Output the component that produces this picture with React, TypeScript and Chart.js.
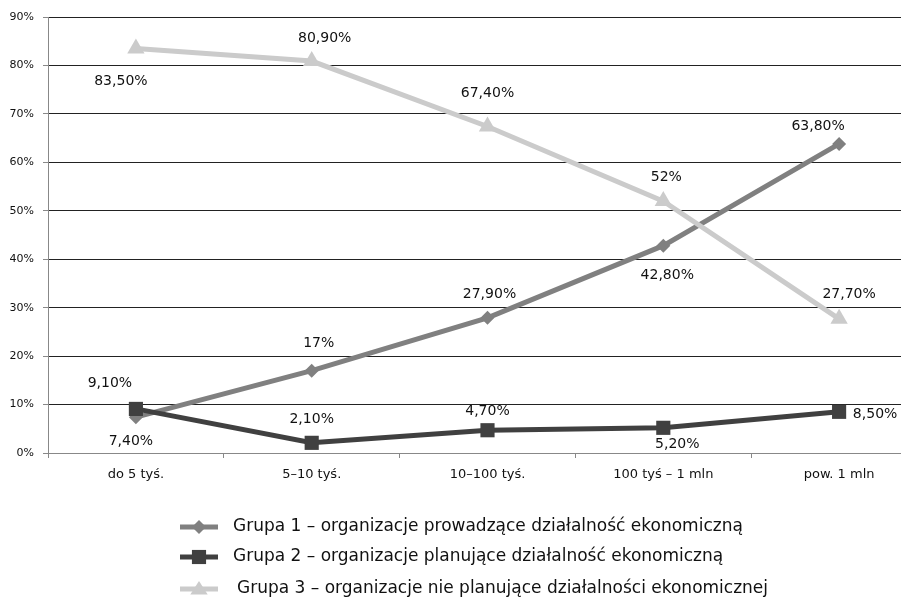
import React, { useEffect, useRef } from "react";
import { Chart, registerables } from "chart.js";

Chart.register(...registerables);

const categories = ["do 5 tyś.", "5–10 tyś.", "10–100 tyś.", "100 tyś – 1 mln", "pow. 1 mln"];
const seriesNames = [
  "Grupa 1 – organizacje prowadzące działalność ekonomiczną",
  "Grupa 2 – organizacje planujące działalność ekonomiczną",
  "Grupa 3 – organizacje nie planujące działalności ekonomicznej",
];
const group1 = [7.4, 17, 27.9, 42.8, 63.8];
const group2 = [9.1, 2.1, 4.7, 5.2, 8.5];
const group3 = [83.5, 80.9, 67.4, 52, 27.7];
const group1Labels = ["7,40%", "17%", "27,90%", "42,80%", "63,80%"];
const group2Labels = ["9,10%", "2,10%", "4,70%", "5,20%", "8,50%"];
const group3Labels = ["83,50%", "80,90%", "67,40%", "52%", "27,70%"];
const yTicks = [0, 10, 20, 30, 40, 50, 60, 70, 80, 90];

// label offsets (style): [dx, dy] relative to point
const labelOffsets = [
  [[-5, 24], [7, -27], [2, -23], [4, 30], [-21, -18]],
  [[-26, -26], [0, -23], [0, -19], [14, 17], [36, 3]],
  [[-15, 33], [13, -23], [0, -33], [3, -24], [10, -24]],
];

const FONT = "'DejaVu Sans', sans-serif";
const colors = ["#808080", "#404040", "#cbcbcb"];
const pointStyles = ["rectRot", "rect", "triangle"];
const pointRadii = [7, 10, 10];

function drawMarker(ctx: CanvasRenderingContext2D, style: string, x: number, y: number, r: number) {
  ctx.beginPath();
  if (style === "rectRot") {
    ctx.moveTo(x - r, y);
    ctx.lineTo(x, y - r);
    ctx.lineTo(x + r, y);
    ctx.lineTo(x, y + r);
  } else if (style === "rect") {
    const s = r * Math.SQRT1_2;
    ctx.rect(x - s, y - s, 2 * s, 2 * s);
  } else {
    ctx.moveTo(x, y - r * 0.8);
    ctx.lineTo(x + r * 0.87, y + r * 0.55);
    ctx.lineTo(x - r * 0.87, y + r * 0.55);
  }
  ctx.closePath();
  ctx.fill();
}

const labelPlugin = {
  id: "pointLabels",
  afterDatasetsDraw(chart: any) {
    const ctx = chart.ctx;
    const allLabels = [group1Labels, group2Labels, group3Labels];
    ctx.save();
    ctx.font = `14px ${FONT}`;
    ctx.fillStyle = "#111";
    ctx.textAlign = "center";
    ctx.textBaseline = "middle";
    chart.data.datasets.forEach((ds: any, i: number) => {
      const meta = chart.getDatasetMeta(i);
      meta.data.forEach((pt: any, j: number) => {
        const [dx, dy] = labelOffsets[i][j];
        ctx.fillText(allLabels[i][j], pt.x + dx, pt.y + dy);
      });
    });
    ctx.restore();
  },
};

const legendPlugin = {
  id: "customLegend",
  afterDraw(chart: any) {
    const ctx = chart.ctx;
    const rows = [527, 557, 589];
    const textX = [233, 233, 237];
    ctx.save();
    chart.data.datasets.forEach((ds: any, i: number) => {
      const y = rows[i];
      ctx.strokeStyle = colors[i];
      ctx.lineWidth = 5;
      ctx.beginPath();
      ctx.moveTo(180, y);
      ctx.lineTo(218, y);
      ctx.stroke();
      ctx.fillStyle = colors[i];
      drawMarker(ctx, pointStyles[i], 199, y, pointRadii[i]);
      ctx.fillStyle = "#111";
      ctx.font = `17px ${FONT}`;
      ctx.textAlign = "left";
      ctx.textBaseline = "middle";
      ctx.fillText(ds.label, textX[i], y);
    });
    ctx.restore();
  },
};

export default function App() {
  const ref = useRef<HTMLCanvasElement>(null);
  useEffect(() => {
    document.body.style.overflow = "hidden";
    const data = [group1, group2, group3];
    const chart = new Chart(ref.current!, {
      type: "line",
      data: {
        labels: categories,
        datasets: data.map((d, i) => ({
          label: seriesNames[i],
          data: d,
          borderColor: colors[i],
          backgroundColor: colors[i],
          borderWidth: 5,
          pointStyle: pointStyles[i] as any,
          pointRadius: pointRadii[i],
          pointBackgroundColor: colors[i],
          pointBorderWidth: 0,
          tension: 0,
          order: 2 - i,
        })),
      },
      options: {
        animation: false,
        responsive: false,
        maintainAspectRatio: false,
        layout: { padding: { top: 17, right: 3, left: 0, bottom: 0 } },
        plugins: { legend: { display: false }, tooltip: { enabled: false } },
        scales: {
          x: {
            offset: true,
            grid: { drawOnChartArea: false, drawTicks: true, tickLength: 5, color: "#888", offset: true },
            border: { color: "#888", width: 1 },
            ticks: { color: "#111", font: { family: FONT, size: 13 }, padding: 9, maxRotation: 0 },
            afterFit(scale: any) {
              scale.height = 148;
            },
          },
          y: {
            min: 0,
            max: 90,
            afterBuildTicks(scale: any) {
              scale.ticks = yTicks.map((v) => ({ value: v }));
            },
            grid: { color: "#222", tickColor: "#888", tickLength: 5 },
            border: { color: "#888", width: 1 },
            ticks: {
              color: "#111",
              font: { family: FONT, size: 11 },
              padding: 9,
              callback: (v: any) => `${v}%`,
            },
            afterFit(scale: any) {
              scale.width = 48;
            },
          },
        },
      },
      plugins: [labelPlugin, legendPlugin],
    });
    return () => chart.destroy();
  }, []);
  return (
    <div style={{ position: "absolute", left: 0, top: 0, width: 937, height: 601 }}>
      <canvas ref={ref} width={937} height={601} style={{ width: 937, height: 601 }} />
    </div>
  );
}
